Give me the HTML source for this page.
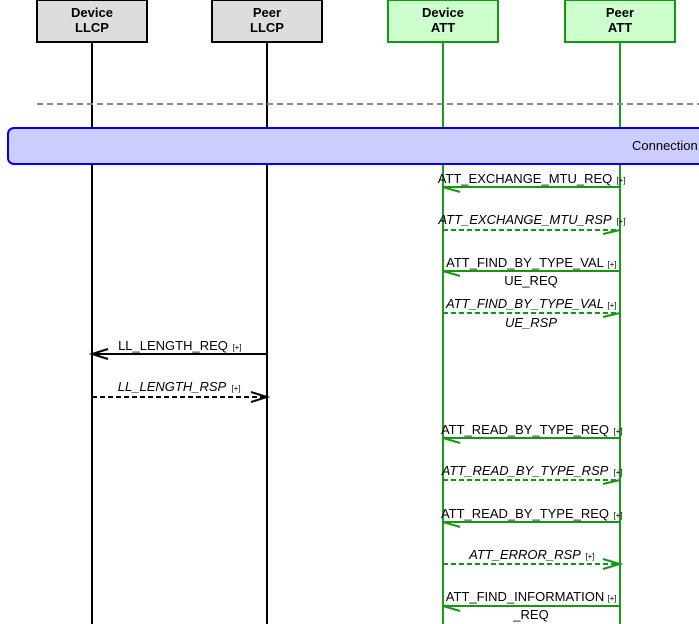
<!DOCTYPE html>
<html><head><meta charset="utf-8"><style>
html,body{margin:0;padding:0;background:#fff;width:699px;height:624px;overflow:hidden}
svg text{font-family:"Liberation Sans",sans-serif}
</style></head><body>
<svg width="699" height="624" xmlns="http://www.w3.org/2000/svg">
<line x1="92" y1="42" x2="92" y2="624" stroke="#000" stroke-width="2"/>
<line x1="267" y1="42" x2="267" y2="624" stroke="#000" stroke-width="2"/>
<line x1="443" y1="42" x2="443" y2="624" stroke="#1a9a1a" stroke-width="2"/>
<line x1="620" y1="42" x2="620" y2="624" stroke="#1a9a1a" stroke-width="2"/>
<g font-size="13" font-weight="bold" text-anchor="middle">
<rect x="37" y="0" width="110" height="42" fill="#dddddd" stroke="#000" stroke-width="2"/>
<text x="92" y="17">Device</text><text x="92" y="32">LLCP</text>
<rect x="212" y="0" width="110" height="42" fill="#dddddd" stroke="#000" stroke-width="2"/>
<text x="267" y="17">Peer</text><text x="267" y="32">LLCP</text>
<rect x="388" y="0" width="110" height="42" fill="#ccffcc" stroke="#119911" stroke-width="2"/>
<text x="443" y="17">Device</text><text x="443" y="32">ATT</text>
<rect x="565" y="0" width="110" height="42" fill="#ccffcc" stroke="#119911" stroke-width="2"/>
<text x="620" y="17">Peer</text><text x="620" y="32">ATT</text>
</g>
<line x1="37" y1="104" x2="699" y2="104" stroke="#888" stroke-width="2" stroke-dasharray="6,4"/>
<rect x="8" y="128" width="720" height="36" rx="6" fill="#ccccff" stroke="#0000ee" stroke-width="2"/>
<text x="632" y="150" font-size="13">Connection</text>

<g font-size="13" text-anchor="middle">
<text x="525" y="183">ATT_EXCHANGE_MTU_REQ</text><text x="621" y="183" font-size="8">[+]</text>
<line x1="443" y1="187" x2="620" y2="187" stroke="#119911" stroke-width="2"/>
<polyline points="443,187 460,192" fill="none" stroke="#119911" stroke-width="2"/>
<text x="525" y="224" font-style="italic">ATT_EXCHANGE_MTU_RSP</text><text x="621" y="224" font-size="8">[+]</text>
<line x1="443" y1="230" x2="620" y2="230" stroke="#119911" stroke-width="2" stroke-dasharray="5,3"/>
<polyline points="603,234 620,230" fill="none" stroke="#119911" stroke-width="2"/>
<text x="525" y="267">ATT_FIND_BY_TYPE_VAL</text><text x="612" y="267" font-size="8">[+]</text>
<text x="531" y="285">UE_REQ</text>
<line x1="443" y1="271" x2="620" y2="271" stroke="#119911" stroke-width="2"/>
<polyline points="443,271 460,276" fill="none" stroke="#119911" stroke-width="2"/>
<text x="525" y="308" font-style="italic">ATT_FIND_BY_TYPE_VAL</text><text x="612" y="308" font-size="8">[+]</text>
<text x="531" y="327" font-style="italic">UE_RSP</text>
<line x1="443" y1="313" x2="620" y2="313" stroke="#119911" stroke-width="2" stroke-dasharray="5,3"/>
<polyline points="603,317 620,313" fill="none" stroke="#119911" stroke-width="2"/>
<text x="173" y="350">LL_LENGTH_REQ</text><text x="237" y="350" font-size="8">[+]</text>
<line x1="92" y1="354" x2="267" y2="354" stroke="#000" stroke-width="2"/>
<polyline points="108,349 92,354 108,359" fill="none" stroke="#000" stroke-width="2"/>
<text x="172" y="391" font-style="italic">LL_LENGTH_RSP</text><text x="236" y="391" font-size="8">[+]</text>
<line x1="92" y1="397" x2="267" y2="397" stroke="#000" stroke-width="2" stroke-dasharray="5,3"/>
<polyline points="251,392 267,397 251,402" fill="none" stroke="#000" stroke-width="2"/>
<text x="525" y="434">ATT_READ_BY_TYPE_REQ</text><text x="618" y="434" font-size="8">[+]</text>
<line x1="443" y1="438" x2="620" y2="438" stroke="#119911" stroke-width="2"/>
<polyline points="443,438 460,443" fill="none" stroke="#119911" stroke-width="2"/>
<text x="525" y="475" font-style="italic">ATT_READ_BY_TYPE_RSP</text><text x="618" y="475" font-size="8">[+]</text>
<line x1="443" y1="480" x2="620" y2="480" stroke="#119911" stroke-width="2" stroke-dasharray="5,3"/>
<polyline points="603,484 620,480" fill="none" stroke="#119911" stroke-width="2"/>
<text x="525" y="518">ATT_READ_BY_TYPE_REQ</text><text x="618" y="518" font-size="8">[+]</text>
<line x1="443" y1="522" x2="620" y2="522" stroke="#119911" stroke-width="2"/>
<polyline points="443,522 460,527" fill="none" stroke="#119911" stroke-width="2"/>
<text x="525" y="559" font-style="italic">ATT_ERROR_RSP</text><text x="590" y="559" font-size="8">[+]</text>
<line x1="443" y1="564" x2="620" y2="564" stroke="#119911" stroke-width="2" stroke-dasharray="5,3"/>
<polyline points="603,559 620,564 603,569" fill="none" stroke="#119911" stroke-width="2"/>
<text x="525" y="601">ATT_FIND_INFORMATION</text><text x="612" y="601" font-size="8">[+]</text>
<text x="531" y="619">_REQ</text>
<line x1="443" y1="606" x2="620" y2="606" stroke="#119911" stroke-width="2"/>
<polyline points="443,606 460,611" fill="none" stroke="#119911" stroke-width="2"/>
</g>
</svg>
</body></html>
